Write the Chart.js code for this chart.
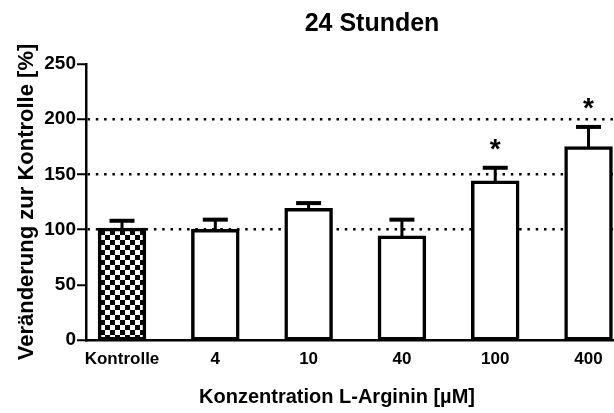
<!DOCTYPE html>
<html>
<head>
<meta charset="utf-8">
<script src="https://cdn.jsdelivr.net/npm/chart.js@4"></script>
<style>
  html, body { margin: 0; padding: 0; background: #fff; }
  #wrap { width: 614px; height: 413px; }
</style>
</head>
<body>
<div id="wrap"><canvas id="chart"></canvas></div>
<script>
const categories = ['Kontrolle', '4', '10', '40', '100', '400'];
const means = [100, 99, 118, 93, 143, 174];
const sem = [8, 10, 6, 16, 13, 19];
const marks = ['', '', '', '', '*', '*'];
const yTicks = [0, 50, 100, 150, 200, 250];
const dottedAt = [100, 150, 200];

const FONT = '"Liberation Sans", Arial, sans-serif';

// checkerboard fill for the control bar
function checker(cell){
  const c = document.createElement('canvas');
  c.width = c.height = cell * 2;
  const g = c.getContext('2d');
  g.fillStyle = '#fff';
  g.fillRect(0, 0, cell * 2, cell * 2);
  g.fillStyle = '#000';
  g.fillRect(0, 0, cell, cell);
  g.fillRect(cell, cell, cell, cell);
  return g.createPattern(c, 'repeat');
}

// SEM whiskers (upward only) plus significance stars
const errorBars = {
  id: 'errorBars',
  afterDatasetsDraw(chart){
    const ctx = chart.ctx;
    const xs = chart.scales.x, ys = chart.scales.y;
    ctx.save();
    ctx.strokeStyle = '#000';
    ctx.fillStyle = '#000';
    means.forEach((m, i) => {
      const x = xs.getPixelForValue(i);
      const yBar = ys.getPixelForValue(m);
      const yTop = ys.getPixelForValue(m + sem[i]);
      ctx.lineWidth = 3;
      ctx.beginPath();
      ctx.moveTo(x, yBar);
      ctx.lineTo(x, yTop);
      ctx.stroke();
      ctx.lineWidth = 4;
      ctx.beginPath();
      ctx.moveTo(x - 12.5, yTop);
      ctx.lineTo(x + 12.5, yTop);
      ctx.stroke();
      if (marks[i]) {
        ctx.font = 'bold 28px ' + FONT;
        ctx.textAlign = 'center';
        ctx.textBaseline = 'alphabetic';
        ctx.fillText(marks[i], x, yTop - 26 + 16);
      }
    });
    ctx.restore();
  }
};

// chart heading and x axis caption
const captions = {
  id: 'captions',
  afterDraw(chart){
    const ctx = chart.ctx;
    ctx.save();
    ctx.fillStyle = '#000';
    ctx.textAlign = 'center';
    ctx.textBaseline = 'middle';
    ctx.font = 'bold 25px ' + FONT;
    ctx.fillText('24 Stunden', 372, 24);
    ctx.font = 'bold 20px ' + FONT;
    ctx.fillText('Konzentration L-Arginin [µM]', 337, 397);
    ctx.restore();
  }
};

new Chart(document.getElementById('chart'), {
  type: 'bar',
  data: {
    datasets: [{
      data: means.map((v, i) => ({ x: i, y: v })),
      backgroundColor: [checker(5), '#fff', '#fff', '#fff', '#fff', '#fff'],
      borderColor: '#000',
      borderWidth: 3.5,
      borderSkipped: false,
      inflateAmount: 1.75,
      barThickness: 45
    }]
  },
  options: {
    responsive: true,
    maintainAspectRatio: false,
    animation: false,
    layout: { padding: { top: 64, right: 0, bottom: 0, left: 0 } },
    plugins: { legend: { display: false }, tooltip: { enabled: false } },
    scales: {
      x: {
        type: 'linear',
        offset: false,
        min: -0.386,
        max: 5.273,
        afterBuildTicks: s => { s.ticks = categories.map((_, i) => ({ value: i })); },
        afterFit: s => { s.height = 73; },
        grid: { display: false, drawTicks: false },
        border: { color: '#000', width: 2.5 },
        ticks: {
          color: '#000', font: { family: FONT, size: 17, weight: 'bold' },
          padding: 9, autoSkip: false, maxRotation: 0,
          callback: v => categories[v]
        }
      },
      y: {
        min: 0,
        max: 250,
        afterBuildTicks: s => { s.ticks = yTicks.map(v => ({ value: v })); },
        afterFit: s => { s.width = 86; },
        grid: {
          color: c => (c.tick && dottedAt.includes(c.tick.value)) ? '#000' : 'rgba(0,0,0,0)',
          lineWidth: 2.5,
          tickColor: '#000',
          tickWidth: 2,
          tickLength: 9
        },
        border: { color: '#000', width: 2.5, dash: [2.5, 5.8] },
        ticks: { color: '#000', font: { family: FONT, size: 19, weight: 'bold' }, padding: 1 },
        title: {
          display: true,
          text: 'Veränderung zur Kontrolle [%]',
          color: '#000',
          font: { family: FONT, size: 22, weight: 'bold' },
          padding: { top: 14, bottom: 0 }
        }
      }
    }
  },
  plugins: [errorBars, captions]
});
</script>
</body>
</html>
